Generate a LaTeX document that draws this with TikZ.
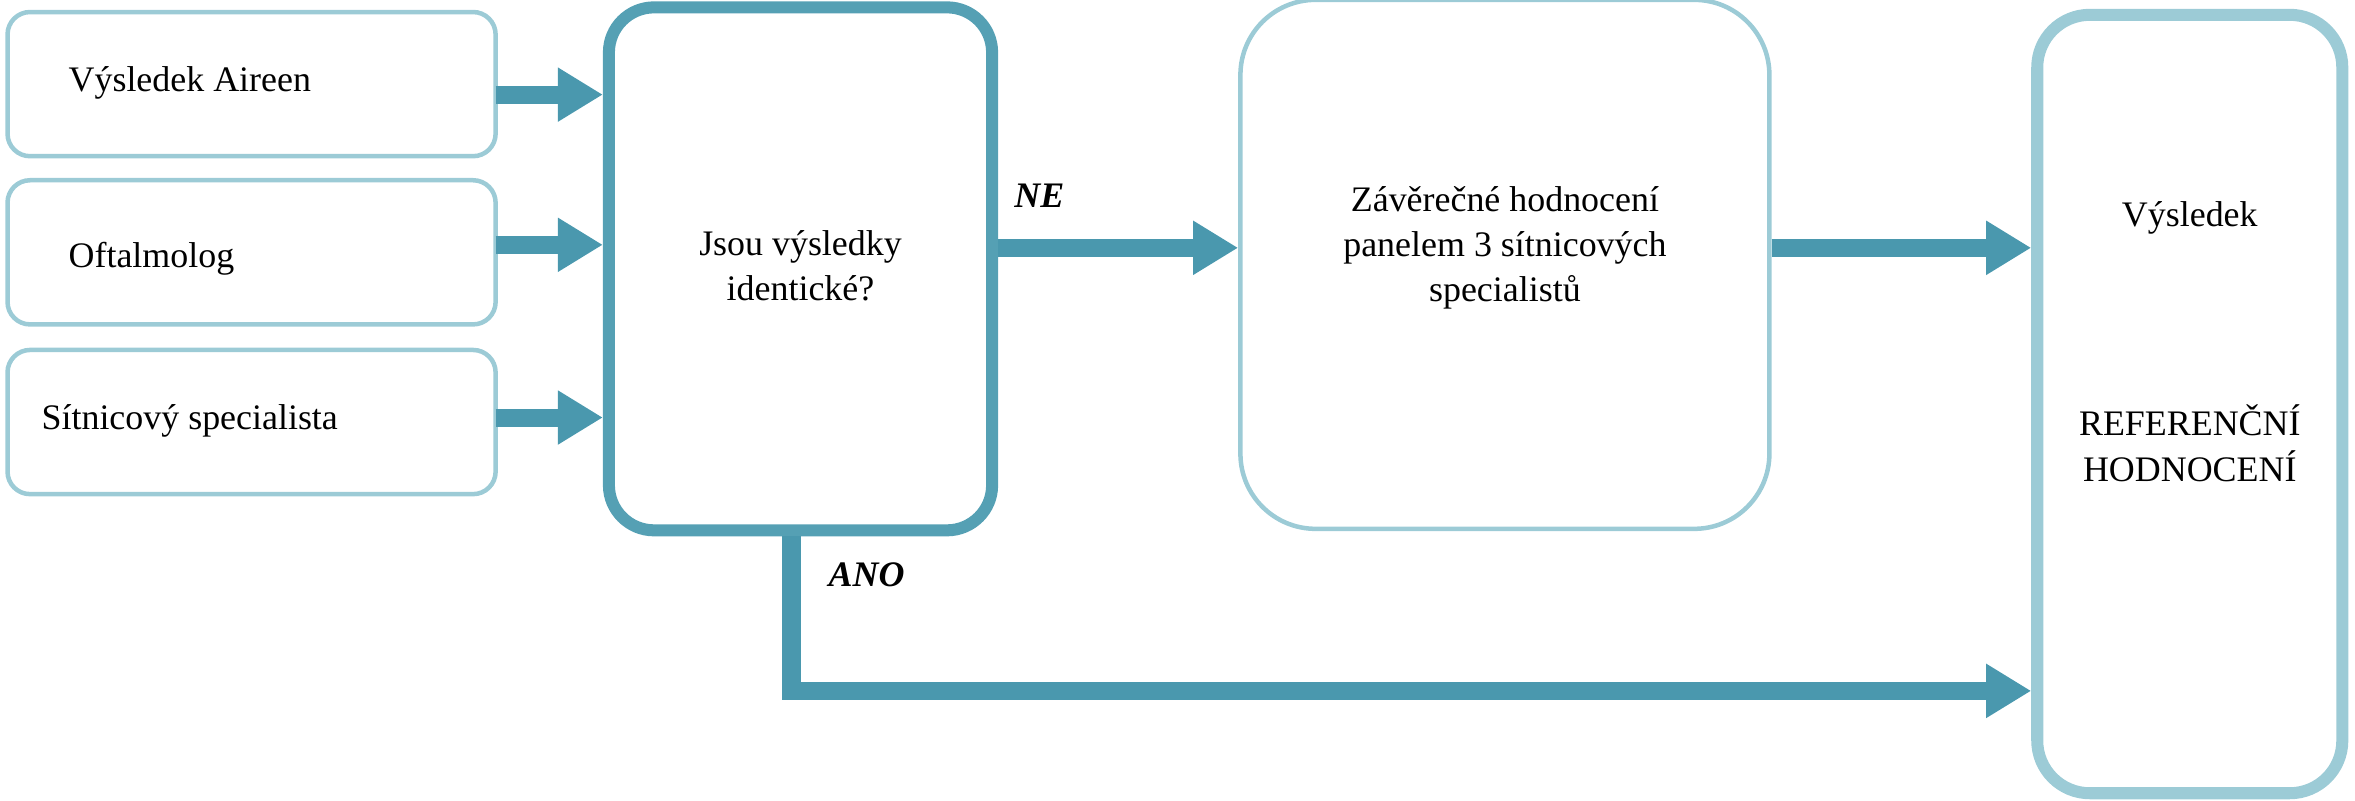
\documentclass[tikz,border=0pt]{standalone}
\usepackage{fontspec}
\setmainfont{Liberation Serif}
\usetikzlibrary{arrows.meta}
\definecolor{lt}{HTML}{9CCBD6}
\definecolor{dk}{HTML}{55A0B4}
\definecolor{ar}{HTML}{4A98AE}
\begin{document}
\begin{tikzpicture}[x=0.01cm,y=-0.01cm,
  tx/.style={font=\fontsize{6.8}{8.6}\selectfont,align=center,inner sep=0},
  thin/.style={draw=lt,line width=0.03cm,rounded corners=0.15cm,fill=white},
  arr/.style={draw=ar,line width=0.12cm,-{Triangle[length=0.3cm,width=0.34cm]}}]
\useasboundingbox (0,0) rectangle (1568,533);
\draw[thin] (5,8) rectangle (330,104) coordinate (b1c);
\draw[thin] (5,120) rectangle (330,216);
\draw[thin] (5,233) rectangle (330,329);
\node[tx,anchor=west] (t1) at (45,55) {Výsledek Aireen};
\node[tx,anchor=west] (t2) at (45,172) {Oftalmolog};
\node[tx,anchor=west] (t3) at (27,280) {Sítnicový specialista};
\node[draw=dk,line width=0.08cm,rounded corners=0.3cm,minimum width=2.55cm,minimum height=3.48cm,inner sep=0] (c) at (533,179) {};
\node[tx] (ct) at (533,177) {Jsou výsledky\\identické?};
\node[draw=lt,line width=0.03cm,rounded corners=0.5cm,minimum width=3.52cm,minimum height=3.52cm,inner sep=0] (p) at (1002,176) {};
\node[tx] (pt) at (1002,165) {Závěrečné hodnocení\\panelem 3 sítnicových\\specialistů};
\node[draw=lt,line width=0.08cm,rounded corners=0.35cm,minimum width=2.03cm,minimum height=5.18cm,inner sep=0] (r) at (1458,269) {};
\node[tx] (rt1) at (1458,145) {Výsledek};
\node[tx] (rt2) at (1458,295) {REFERENČNÍ\\HODNOCENÍ};
\coordinate (a1) at (330,63); \coordinate (a2) at (330,163); \coordinate (a3) at (330,278);
\draw[arr] (a1) -- (c.west |- a1);
\draw[arr] (a2) -- (c.west |- a2);
\draw[arr] (a3) -- (c.west |- a3);
\coordinate (n) at (662,165);
\draw[arr] (c.east |- n) -- (p.west |- n);
\draw[arr] (p.east |- n) -- (r.west |- n);
\coordinate (d) at (527,460);
\draw[arr] (c.south -| d) -- (d) -- (r.west |- d);
\node[tx,font=\fontsize{6.8}{8.6}\selectfont\bfseries\itshape] (ne) at (692,130) {NE};
\node[tx,font=\fontsize{6.8}{8.6}\selectfont\bfseries\itshape] (ano) at (577,383) {ANO};
\end{tikzpicture}
\end{document}
